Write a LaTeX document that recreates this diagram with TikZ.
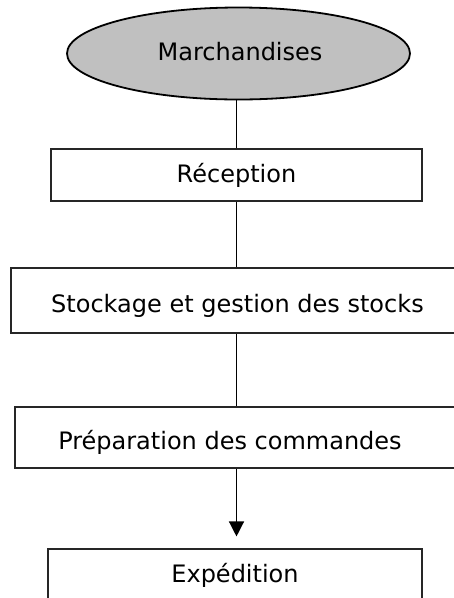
\documentclass[tikz,border=0pt]{standalone}
\usepackage{fontspec}
\setmainfont{DejaVu Sans}
\usetikzlibrary{shapes.geometric,arrows.meta,calc}

\definecolor{fondgris}{HTML}{C0C0C0}
\tikzset{
  etape/.style={draw=black!85,line width=1.1pt,rectangle,inner sep=0pt},
  texte/.style={font=\fontsize{24}{28}\selectfont,inner sep=0pt},
  lien/.style={line width=1.3pt}
}

\begin{document}
\begin{tikzpicture}[x=1pt,y=-1pt]
\useasboundingbox (0,0) rectangle (454,598);
\clip (0,0) rectangle (454,598);

\node[ellipse,draw,line width=1.8pt,fill=fondgris,minimum width=343pt,minimum height=92pt,inner sep=0pt] (march) at (238.5,53.5) {};
\node[texte] (marcht) at (240,52) {Marchandises};

\node[etape,minimum width=371pt,minimum height=52pt] (recep) at (236.5,175) {};
\node[texte] (recept) at (236.5,175) {Réception};

\node[etape,minimum width=453pt,minimum height=65pt] (stock) at (237.5,300.5) {};
\node[texte] (stockt) at (237.5,306) {Stockage et gestion des stocks};

\node[etape,minimum width=445pt,minimum height=61pt] (prep) at (237.5,437.5) {};
\node[texte] (prept) at (230,442) {Préparation des commandes};

\node[etape,minimum width=374pt,minimum height=52pt] (expe) at (235,575) {};
\node[texte] (expet) at (235,575) {Expédition};

\draw[lien] (recep.north) -- (recep.north |- march.south);
\draw[lien] (recep.south) -- (recep.south |- stock.north);
\draw[lien] (recep.south |- stock.south) -- (recep.south |- prep.north);
\draw[lien,-{Triangle[length=15pt,width=15pt]},shorten >=12pt] (recep.south |- prep.south) -- (recep.south |- expe.north);

\end{tikzpicture}
\end{document}
